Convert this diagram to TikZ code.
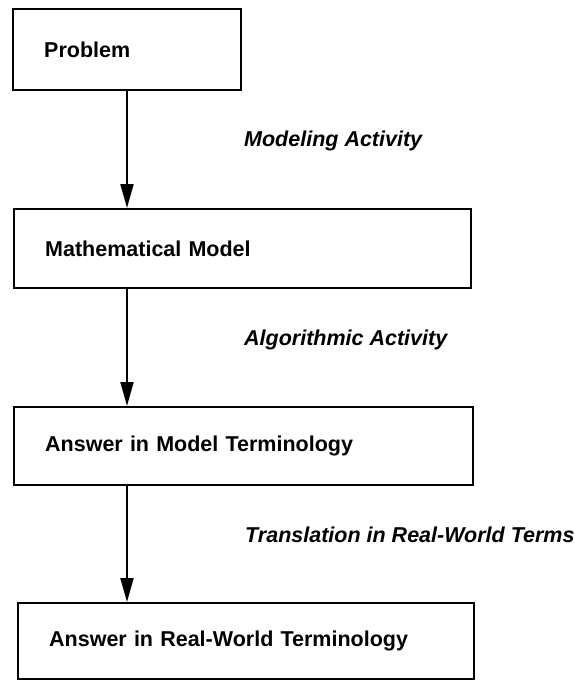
\documentclass[tikz,border=0pt]{standalone}
\usepackage{fontspec}
\setmainfont{Liberation Sans}
\usetikzlibrary{arrows.meta}
\begin{document}
\begin{tikzpicture}[x=1pt,y=-1pt,
  stepbox/.style={draw, line width=2.4pt, anchor=north west, inner xsep=31pt, inner ysep=0pt,
    align=left, font=\fontsize{21.5}{24}\selectfont\bfseries},
  arr/.style={line width=2pt, -{Triangle[length=24pt,width=13pt]}},
  lbl/.style={anchor=west, inner sep=0pt, font=\fontsize{21.5}{24}\selectfont\bfseries\itshape}]
\useasboundingbox (0,0) rectangle (575,680);
\coordinate (ax) at (127,0);
\node[stepbox, text width=166pt, minimum height=81pt] (p) at (12,8) {Problem};
\node[stepbox, text width=395pt, minimum height=79pt] (m) at (13,208) {Mathematical Model};
\node[stepbox, text width=397pt, minimum height=78pt] (a) at (13,406) {Answer in Model Terminology};
\node[stepbox, text width=394pt, minimum height=76pt] (r) at (17,602) {Answer in Real-World Terminology};
\draw[arr] (p.south -| ax) -- (m.north -| ax);
\draw[arr] (m.south -| ax) -- (a.north -| ax);
\draw[arr] (a.south -| ax) -- (r.north -| ax);
\node[lbl] (l1) at (244,141) {Modeling Activity};
\node[lbl] (l2) at (244,340) {Algorithmic Activity};
\node[lbl] (l3) at (245,535) {Translation in Real-World Terms};
\end{tikzpicture}
\end{document}
